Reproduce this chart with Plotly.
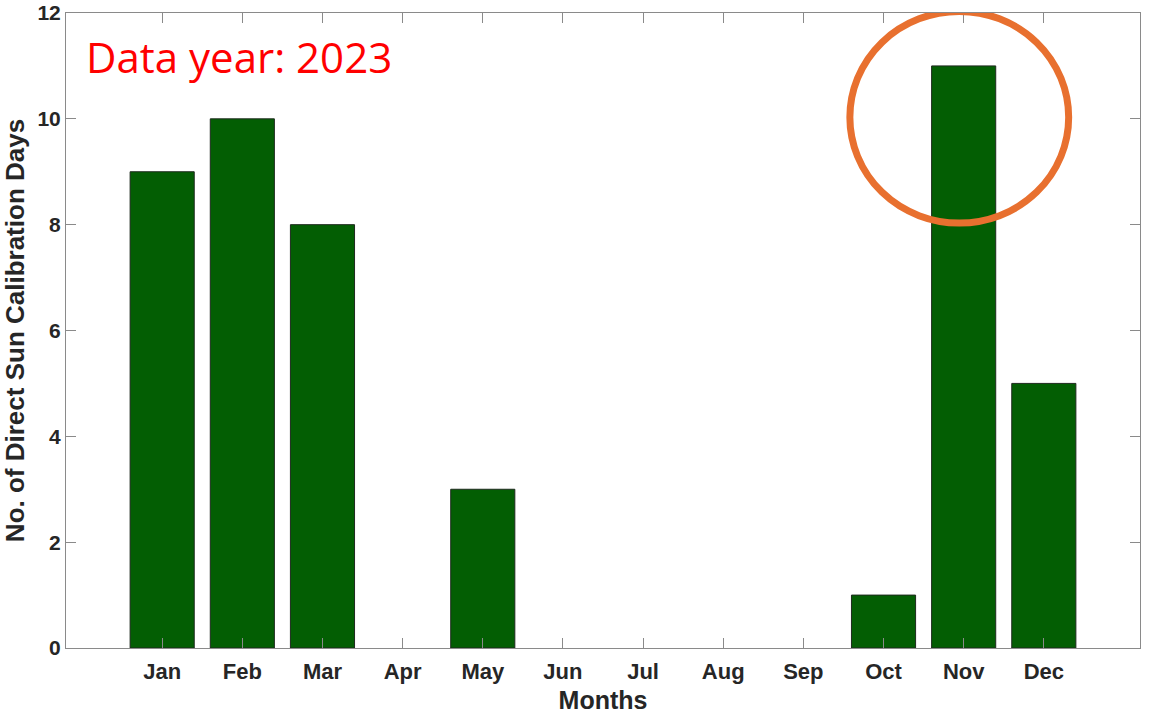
import plotly.graph_objects as go

MONTHS = ["Jan", "Feb", "Mar", "Apr", "May", "Jun",
          "Jul", "Aug", "Sep", "Oct", "Nov", "Dec"]
MONTH_NUM = list(range(1, 13))
CAL_DAYS = [9, 10, 8, 0, 3, 0, 0, 0, 0, 1, 11, 5]
Y_TICKS = [0, 2, 4, 6, 8, 10, 12]

BAR_GREEN = "#035E03"
AXIS_GREY = "#8a8a8a"
LABEL_DARK = "#262626"
RING = "#E8702F"
FONT = "Liberation Sans, Arial"

# empty months have no outline drawn
edge_w = [1 if v > 0 else 0 for v in CAL_DAYS]

fig = go.Figure(go.Bar(
    x=MONTH_NUM, y=CAL_DAYS, width=0.8,
    marker=dict(color=BAR_GREEN, line=dict(color="#1e2a1e", width=edge_w)),
))

# highlight ring around Nov
fig.add_shape(type="circle", xref="x", yref="y",
              x0=9.58, x1=12.31, y0=8.03, y1=12.03,
              line=dict(color=RING, width=7))

fig.add_annotation(text="Data year: 2023", xref="paper", yref="paper",
                   x=0.0165, y=0.979, xanchor="left", yanchor="top",
                   showarrow=False,
                   font=dict(family="Open Sans, Noto Sans", size=42, color="#ff0000"))

fig.update_xaxes(
    range=[-0.2, 13.2], tickvals=MONTH_NUM, ticktext=[f"<b>{m}</b>" for m in MONTHS],
    showline=True, linecolor=AXIS_GREY, linewidth=1, mirror="ticks",
    ticks="inside", ticklen=10, tickcolor=AXIS_GREY, tickwidth=1,
    showgrid=False, zeroline=False, automargin=False, ticklabelstandoff=4,
    tickfont=dict(family=FONT, size=22, color=LABEL_DARK),
    title=dict(text="<b>Months</b>", font=dict(family=FONT, size=25, color=LABEL_DARK), standoff=11),
)
fig.update_yaxes(
    range=[0, 12], tickvals=Y_TICKS, ticktext=[f"<b>{v}</b>" for v in Y_TICKS],
    showline=True, linecolor=AXIS_GREY, linewidth=1, mirror="ticks",
    ticks="inside", ticklen=10, tickcolor=AXIS_GREY, tickwidth=1,
    showgrid=False, zeroline=False, automargin=False,
    tickfont=dict(family=FONT, size=21, color=LABEL_DARK),
    title=dict(text="<b>No. of Direct Sun Calibration Days</b>", font=dict(family=FONT, size=26, color=LABEL_DARK), standoff=15),
)

fig.update_layout(
    width=1152, height=714, showlegend=False,
    margin=dict(l=66, r=12, t=13, b=66),
    paper_bgcolor="white", plot_bgcolor="white",
)

# drop the browser's default body margin so the figure sits at the page corner
fig.write_html("out.html", config={"displayModeBar": False},
               post_script="document.body.style.margin='0';")
